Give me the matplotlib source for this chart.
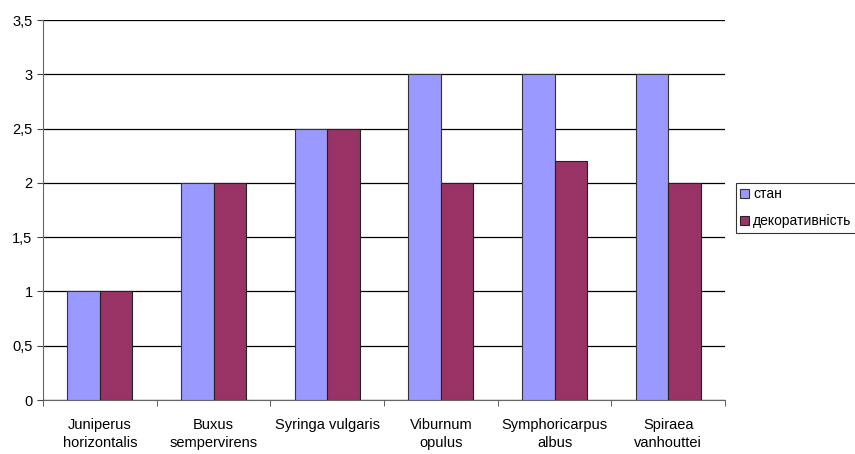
import numpy as np
import matplotlib.pyplot as plt
from matplotlib.ticker import FixedLocator, FuncFormatter

plt.rcParams['font.family'] = ['Liberation Sans', 'DejaVu Sans']

species = ['Juniperus\nhorizontalis', 'Buxus\nsempervirens', 'Syringa vulgaris',
           'Viburnum\nopulus', 'Symphoricarpus\nalbus', 'Spiraea\nvanhouttei']
stan = [1, 2, 2.5, 3, 3, 3]
dekor = [1, 2, 2.5, 2, 2.2, 2]
series_names = ['стан', 'декоративність']

fig = plt.figure(figsize=(8.55, 4.54), dpi=100)
ax = fig.add_axes([43 / 855, 54 / 454, (725 - 43) / 855, (400 - 20) / 454])

x = np.arange(len(species))
w = 0.286
ax.bar(x - w / 2, stan, w, color='#9999FF', edgecolor='#333333', linewidth=0.8,
       label=series_names[0], zorder=3)
ax.bar(x + w / 2, dekor, w, color='#993366', edgecolor='#222222', linewidth=0.8,
       label=series_names[1], zorder=3)

ax.set_xlim(-0.5, len(species) - 0.5)
ax.set_ylim(0, 3.5)
ax.yaxis.set_major_locator(FixedLocator(np.arange(0, 3.51, 0.5)))
ax.yaxis.set_major_formatter(FuncFormatter(lambda v, p: ('%g' % v).replace('.', ',')))
ax.grid(axis='y', color='black', linewidth=0.9, zorder=0)

# category labels in the middle, tick marks between groups
ax.set_xticks(x)
ax.set_xticklabels(species, fontsize=10.5, linespacing=1.38)
ax.tick_params(axis='x', length=0, pad=13)
ax.set_xticks(np.arange(-0.5, len(species)), minor=True)
ax.tick_params(axis='x', which='minor', length=4, direction='out', color='#444444')
ax.tick_params(axis='y', labelsize=10.5, length=4, direction='out', color='#444444')

for s in ['top', 'right']:
    ax.spines[s].set_visible(False)
ax.spines['left'].set_color('#666666')
ax.spines['bottom'].set_color('#666666')

leg = fig.legend(loc='upper left', bbox_to_anchor=(736 / 855, 1 - 183 / 454),
                 fontsize=10, frameon=True, fancybox=False, edgecolor='black',
                 handlelength=0.65, handleheight=0.65, handletextpad=0.3,
                 borderpad=0.3, labelspacing=0.95, borderaxespad=0)
leg.get_frame().set_linewidth(0.8)

fig.savefig('out.png', dpi=100)
